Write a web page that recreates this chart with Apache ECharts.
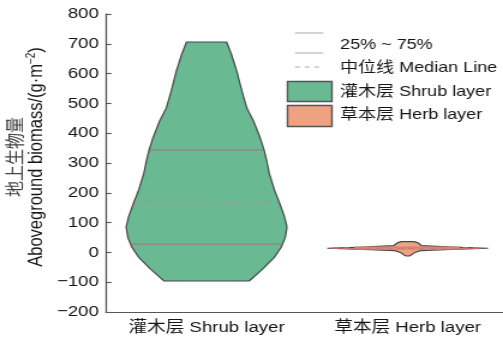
<!DOCTYPE html>
<html>
<head>
<meta charset="utf-8">
<script src="https://cdn.jsdelivr.net/npm/echarts@6/dist/echarts.min.js"></script>
<style>
  html, body { margin: 0; padding: 0; background: #fff; overflow: hidden; }
  /* the figure is drawn on a narrower canvas and widened horizontally */
  #chart { width: 419px; height: 345px; transform: scaleX(1.2005); transform-origin: 0 0; }
</style>
</head>
<body>
<div id="chart"></div>
<script>
// groups on the x axis
const categories = ['灌木层 Shrub layer', '草本层 Herb layer'];

// shrub layer: kernel density profile (relative width) at biomass levels
const shrubLevels  = [-96, -55, -16, 18, 51, 85, 119, 164, 209, 265, 305, 344, 384, 440, 485, 541, 608, 664, 706];
const shrubDensity = [0.53, 0.70, 0.845, 0.93, 0.98, 1.0, 0.97, 0.91, 0.845, 0.78, 0.75, 0.715, 0.667, 0.585, 0.50, 0.44, 0.376, 0.31, 0.25];
// Q1, median, Q3
const shrubQuartiles = [27, 166, 344];

// herb layer
const herbLevels  = [-12, -8, 0, 6, 10, 14, 18, 23, 28, 33, 36];
const herbDensity = [0.02, 0.05, 0.09, 0.16, 0.55, 1.0, 0.55, 0.17, 0.15, 0.12, 0.08];
const herbQuartiles = [11, 14.5, 17];

// value axis range
const yMin = -200, yMax = 800, yStep = 100;

const FONT = "'Liberation Sans', Arial, 'Noto Sans CJK SC', sans-serif";
const CJK = "'Noto Sans CJK SC', sans-serif";
const INK = '#151515';

function widthAt(levels, density, v) {
  if (v <= levels[0]) return density[0];
  for (let i = 1; i < levels.length; i++) {
    if (v <= levels[i]) {
      const t = (v - levels[i - 1]) / (levels[i] - levels[i - 1]);
      return density[i - 1] + t * (density[i] - density[i - 1]);
    }
  }
  return density[density.length - 1];
}

function violin(levels, density, quart, fill, innerColor, medianColor) {
  return function (params, api) {
    const cat = api.value(0);
    const cx = api.coord([cat, 0])[0];
    const band = api.size([1, 0])[0];
    const maxHalf = band * 0.4;
    const right = [], left = [];
    for (let i = 0; i < levels.length; i++) {
      const y = api.coord([cat, levels[i]])[1];
      right.push([cx + density[i] * maxHalf, y]);
      left.unshift([cx - density[i] * maxHalf, y]);
    }
    const children = [{
      type: 'polygon',
      shape: { points: right.concat(left) },
      style: { fill: fill, stroke: '#474747', lineWidth: 1.2 }
    }];
    quart.forEach(function (q, k) {
      const hw = widthAt(levels, density, q) * maxHalf;
      const y = api.coord([cat, q])[1];
      children.push({
        type: 'line',
        shape: { x1: cx - hw + 0.8, y1: y, x2: cx + hw - 0.8, y2: y },
        style: k === 1
          ? { stroke: medianColor, lineWidth: 1.5, lineDash: [5, 4] }
          : { stroke: innerColor, lineWidth: 1.5 }
      });
    });
    return { type: 'group', children: children };
  };
}

const chart = echarts.init(document.getElementById('chart'), null, { renderer: 'canvas' });

chart.setOption({
  backgroundColor: '#fff',
  animation: false,
  grid: { left: 88.3, right: -4.3, top: 14, bottom: 33, containLabel: false, outerBoundsMode: 'none' },
  xAxis: {
    type: 'category',
    data: categories,
    axisLine: { onZero: false, lineStyle: { color: '#555', width: 1.1 } },
    axisTick: { inside: true, length: 7, alignWithLabel: true, lineStyle: { color: '#555', width: 1.1 } },
    axisLabel: { color: INK, fontSize: 15.5, fontFamily: FONT, margin: 8, interval: 0, hideOverlap: false },
    splitLine: { show: false }
  },
  yAxis: {
    type: 'value',
    min: yMin, max: yMax, interval: yStep,
    axisLine: { show: true, lineStyle: { color: '#555', width: 1.3 } },
    axisTick: { show: true, inside: true, length: 4.5, lineStyle: { color: '#555', width: 1.1 } },
    axisLabel: {
      color: INK, fontSize: 15.5, fontFamily: FONT, margin: 6,
      formatter: function (v) { return String(v).replace('-', '\u2212'); }
    },
    splitLine: { show: false },
    name: '{cn|地上生物量}\n{en|Aboveground biomass/(g·m}{sup|\u22122}{en|)}',
    nameLocation: 'middle',
    nameRotate: 90,
    nameGap: 49,
    nameMoveOverlap: false,
    nameTextStyle: {
      padding: [0, 0, 0, 12],
      rich: {
        cn: { fontSize: 16, fontFamily: CJK, color: '#444', lineHeight: 18 },
        en: { fontSize: 16.5, fontFamily: FONT, color: INK, lineHeight: 18 },
        sup: { fontSize: 10, fontFamily: FONT, color: INK, verticalAlign: 'top', lineHeight: 11 }
      }
    }
  },
  series: [
    {
      type: 'custom',
      name: '灌木层 Shrub layer',
      renderItem: violin(shrubLevels, shrubDensity, shrubQuartiles, '#69b993', '#8a8a8a', '#9a9a9a'),
      encode: { x: 0, y: 1 },
      data: [[0, shrubQuartiles[1]]]
    },
    {
      type: 'custom',
      name: '草本层 Herb layer',
      renderItem: violin(herbLevels, herbDensity, herbQuartiles, '#efa27f', '#c98a7a', '#dd6f78'),
      encode: { x: 0, y: 1 },
      data: [[1, herbQuartiles[1]]]
    }
  ],
  graphic: [
    { type: 'line', shape: { x1: 245.8, y1: 33, x2: 269.2, y2: 33 }, style: { stroke: '#aaa', lineWidth: 1 } },
    { type: 'line', shape: { x1: 245.8, y1: 53, x2: 269.2, y2: 53 }, style: { stroke: '#aaa', lineWidth: 1 } },
    { type: 'text', x: 283.3, y: 44.5, style: { text: '25% ~ 75%', font: '15px ' + FONT, fill: INK, textVerticalAlign: 'middle' } },
    { type: 'line', shape: { x1: 245.8, y1: 67, x2: 269.2, y2: 67 }, style: { stroke: '#aaa', lineWidth: 1, lineDash: [4, 4] } },
    { type: 'text', x: 283.3, y: 68, style: { text: '中位线 Median Line', font: '15px ' + FONT, fill: INK, textVerticalAlign: 'middle' } },
    { type: 'rect', shape: { x: 239.5, y: 81.5, width: 37, height: 20 }, style: { fill: '#69b993', stroke: '#555', lineWidth: 1.4 } },
    { type: 'text', x: 283.3, y: 91.5, style: { text: '灌木层 Shrub layer', font: '15px ' + FONT, fill: INK, textVerticalAlign: 'middle' } },
    { type: 'rect', shape: { x: 239.5, y: 105.5, width: 37, height: 21 }, style: { fill: '#efa27f', stroke: '#555', lineWidth: 1.4 } },
    { type: 'text', x: 283.3, y: 114.5, style: { text: '草本层 Herb layer', font: '15px ' + FONT, fill: INK, textVerticalAlign: 'middle' } }
  ]
});
</script>
</body>
</html>
